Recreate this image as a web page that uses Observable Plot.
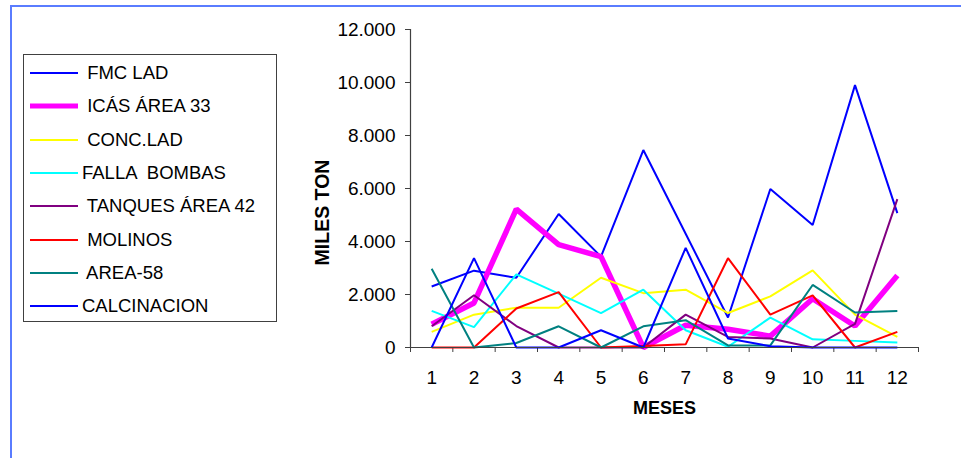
<!DOCTYPE html>
<html>
<head>
<meta charset="utf-8">
<script src="https://cdn.jsdelivr.net/npm/d3@7"></script>
<script src="https://cdn.jsdelivr.net/npm/@observablehq/plot@0.6"></script>
<style>
  html, body { margin: 0; padding: 0; background: #fff; }
  #wrap { position: relative; width: 961px; height: 458px; overflow: hidden; font-family: "Liberation Sans", Arial, sans-serif; }
  #frame { position: absolute; left: 10px; top: 5px; width: 2000px; height: 2000px;
           border-left: 2px solid #5a7cff; border-top: 2px solid #5a7cff; }
  #chart { position: absolute; left: 0; top: 0; }
  #legend { position: absolute; left: 23px; top: 54px; width: 254px; height: 268px;
            box-sizing: border-box; border: 1px solid #404040; background: #fff; }
  .row { position: absolute; left: 0; height: 24px; display: flex; align-items: center; }
  .row svg { display: block; }
  .row span { white-space: pre; font-size: 18.5px; color: #000; margin-left: 0; }
</style>
</head>
<body>
<div id="wrap">
  <div id="frame"></div>
  <div id="chart"></div>
  <div id="legend"></div>
</div>
<script>
// Months on the horizontal axis
const months = [1, 2, 3, 4, 5, 6, 7, 8, 9, 10, 11, 12];

// Series names as shown in the legend
const names = [" FMC LAD", " ICÁS ÁREA 33", " CONC.LAD", "FALLA  BOMBAS",
               " TANQUES ÁREA 42", " MOLINOS", " AREA-58", "CALCINACION"];

// Monthly tonnage per cause
const fmcLad      = [2300, 2900, 2630, 5040, 3430, 7450, 4290, 1130, 5980, 4620, 9900, 5070];
const icasArea33  = [880, 1680, 5220, 3880, 3430, 0, 840, 690, 430, 1840, 810, 2720];
const concLad     = [590, 1240, 1500, 1500, 2630, 2050, 2180, 1300, 1930, 2910, 1240, 400];
const fallaBombas = [1380, 770, 2760, 2030, 1300, 2180, 650, 30, 1130, 310, 250, 190];
const tanques42   = [800, 1970, 810, 0, 0, 0, 1240, 400, 340, 0, 890, 5600];
const molinos     = [0, 0, 1470, 2090, 0, 60, 120, 3370, 1240, 1970, 0, 590];
const area58      = [2970, 0, 170, 800, 0, 800, 1030, 80, 80, 2360, 1320, 1380];
const calcinacion = [0, 3370, 0, 0, 650, 0, 3760, 340, 50, 0, 0, 0];

const seriesValues = [fmcLad, icasArea33, concLad, fallaBombas, tanques42, molinos, area58, calcinacion];

// Y axis ticks and titles
const yTicks = [0, 2000, 4000, 6000, 8000, 10000, 12000];
const yTitle = "MILES TON";
const xTitle = "MESES";

// Styling
const colors = ["#0000ff", "#ff00ff", "#ffff00", "#00ffff", "#800080", "#ff0000", "#008080", "#0000ff"];
const widths = [2, 5.5, 2, 2, 2, 2, 2, 2];

const esLocale = d3.formatLocale({decimal: ",", thousands: ".", grouping: [3], currency: ["$", ""]});
const fmtThousands = esLocale.format(",");

const boundaries = d3.range(0.5, 13, 1);
const axisColor = "#404040";

const lineMarks = seriesValues.map((vals, s) =>
  Plot.line(vals, {
    x: (d, i) => months[i],
    y: d => d,
    stroke: colors[s],
    strokeWidth: widths[s],
    strokeLinejoin: "miter",
    strokeLinecap: "butt"
  })
);

const chart = Plot.plot({
  width: 961,
  height: 458,
  marginLeft: 410,
  marginRight: 43,
  marginTop: 29,
  marginBottom: 111,
  x: {domain: [0.5, 12.5]},
  y: {domain: [0, 12000]},
  style: {fontFamily: "'Liberation Sans', Arial, sans-serif", fontSize: "19px", color: "#000", background: "transparent", overflow: "visible"},
  marks: [
    Plot.axisY({ticks: yTicks, tickSize: 5, tickPadding: 10, tickFormat: fmtThousands, label: null, stroke: axisColor, fontSize: 19}),
    Plot.axisX({ticks: boundaries, tickSize: 5, tickFormat: () => "", label: null, stroke: axisColor}),
    Plot.axisX({ticks: months, tickSize: 0, tickPadding: 23, label: null, fontSize: 19}),
    ...lineMarks,
    Plot.ruleX([0.5], {stroke: axisColor, strokeWidth: 1.2}),
    Plot.ruleY([0], {stroke: axisColor, strokeWidth: 1.2}),
    Plot.text([yTitle], {frameAnchor: "left", textAnchor: "middle", dx: -88, dy: 24, rotate: -90, fontWeight: "bold", fontSize: 19.5, text: d => d}),
    Plot.text([xTitle], {frameAnchor: "bottom", dy: 66, fontWeight: "bold", fontSize: 18, text: d => d})
  ]
});
document.getElementById("chart").appendChild(chart);

// Legend with line swatches
const legend = d3.select("#legend");
names.forEach((name, i) => {
  const row = legend.append("div").attr("class", "row")
    .style("top", (18 + i * 33.3 - 12) + "px");
  const sw = row.append("svg").attr("width", 58).attr("height", 24);
  sw.append("line")
    .attr("x1", 6).attr("x2", 54).attr("y1", 12).attr("y2", 12)
    .attr("stroke", colors[i]).attr("stroke-width", widths[i] > 3 ? 5 : 2);
  row.append("span").text(name);
});
</script>
</body>
</html>
